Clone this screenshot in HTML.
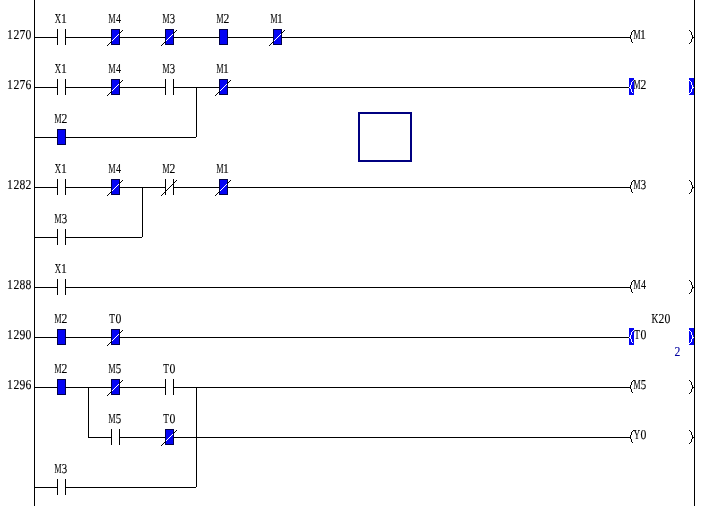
<!DOCTYPE html>
<html><head><meta charset="utf-8"><style>
html,body{margin:0;padding:0;background:#fff;width:701px;height:508px;overflow:hidden}
svg{position:absolute;left:0;top:0;display:block}
text{font-family:"Liberation Serif",serif;font-size:13.6px;text-anchor:middle;text-rendering:geometricPrecision;stroke-width:0.12px}
</style></head><body>
<svg width="701" height="508">
<g shape-rendering="crispEdges">
<rect x="34" y="0" width="1" height="506" fill="#000"/>
<rect x="694" y="0" width="1" height="506" fill="#000"/>
<rect x="34" y="37" width="24" height="1" fill="#000"/>
<rect x="65" y="37" width="47" height="1" fill="#000"/>
<rect x="119" y="37" width="47" height="1" fill="#000"/>
<rect x="173" y="37" width="47" height="1" fill="#000"/>
<rect x="227" y="37" width="47" height="1" fill="#000"/>
<rect x="281" y="37" width="349" height="1" fill="#000"/>
<rect x="57" y="29" width="1" height="16" fill="#000"/>
<rect x="65" y="29" width="1" height="16" fill="#000"/>
<rect x="111" y="29" width="9" height="16" fill="#00004a"/>
<rect x="112" y="30" width="7" height="14" fill="#0404f4"/>
<rect x="111" y="29" width="1" height="16" fill="#00004a"/>
<rect x="119" y="29" width="1" height="16" fill="#00004a"/>
<rect x="107" y="45" width="1" height="1" fill="#000"/>
<rect x="108" y="44" width="1" height="1" fill="#000"/>
<rect x="109" y="43" width="1" height="1" fill="#000"/>
<rect x="110" y="42" width="1" height="1" fill="#000"/>
<rect x="111" y="41" width="1" height="1" fill="#000"/>
<rect x="112" y="40" width="1" height="1" fill="#fff"/>
<rect x="113" y="39" width="1" height="1" fill="#fff"/>
<rect x="114" y="38" width="1" height="1" fill="#fff"/>
<rect x="115" y="37" width="1" height="1" fill="#fff"/>
<rect x="116" y="36" width="1" height="1" fill="#fff"/>
<rect x="117" y="35" width="1" height="1" fill="#fff"/>
<rect x="118" y="34" width="1" height="1" fill="#fff"/>
<rect x="119" y="33" width="1" height="1" fill="#000"/>
<rect x="120" y="32" width="1" height="1" fill="#000"/>
<rect x="121" y="31" width="1" height="1" fill="#000"/>
<rect x="122" y="30" width="1" height="1" fill="#000"/>
<rect x="165" y="29" width="9" height="16" fill="#00004a"/>
<rect x="166" y="30" width="7" height="14" fill="#0404f4"/>
<rect x="165" y="29" width="1" height="16" fill="#00004a"/>
<rect x="173" y="29" width="1" height="16" fill="#00004a"/>
<rect x="161" y="45" width="1" height="1" fill="#000"/>
<rect x="162" y="44" width="1" height="1" fill="#000"/>
<rect x="163" y="43" width="1" height="1" fill="#000"/>
<rect x="164" y="42" width="1" height="1" fill="#000"/>
<rect x="165" y="41" width="1" height="1" fill="#000"/>
<rect x="166" y="40" width="1" height="1" fill="#fff"/>
<rect x="167" y="39" width="1" height="1" fill="#fff"/>
<rect x="168" y="38" width="1" height="1" fill="#fff"/>
<rect x="169" y="37" width="1" height="1" fill="#fff"/>
<rect x="170" y="36" width="1" height="1" fill="#fff"/>
<rect x="171" y="35" width="1" height="1" fill="#fff"/>
<rect x="172" y="34" width="1" height="1" fill="#fff"/>
<rect x="173" y="33" width="1" height="1" fill="#000"/>
<rect x="174" y="32" width="1" height="1" fill="#000"/>
<rect x="175" y="31" width="1" height="1" fill="#000"/>
<rect x="176" y="30" width="1" height="1" fill="#000"/>
<rect x="219" y="29" width="9" height="16" fill="#00004a"/>
<rect x="220" y="30" width="7" height="14" fill="#0404f4"/>
<rect x="219" y="29" width="1" height="16" fill="#00004a"/>
<rect x="227" y="29" width="1" height="16" fill="#00004a"/>
<rect x="273" y="29" width="9" height="16" fill="#00004a"/>
<rect x="274" y="30" width="7" height="14" fill="#0404f4"/>
<rect x="273" y="29" width="1" height="16" fill="#00004a"/>
<rect x="281" y="29" width="1" height="16" fill="#00004a"/>
<rect x="269" y="45" width="1" height="1" fill="#000"/>
<rect x="270" y="44" width="1" height="1" fill="#000"/>
<rect x="271" y="43" width="1" height="1" fill="#000"/>
<rect x="272" y="42" width="1" height="1" fill="#000"/>
<rect x="273" y="41" width="1" height="1" fill="#000"/>
<rect x="274" y="40" width="1" height="1" fill="#fff"/>
<rect x="275" y="39" width="1" height="1" fill="#fff"/>
<rect x="276" y="38" width="1" height="1" fill="#fff"/>
<rect x="277" y="37" width="1" height="1" fill="#fff"/>
<rect x="278" y="36" width="1" height="1" fill="#fff"/>
<rect x="279" y="35" width="1" height="1" fill="#fff"/>
<rect x="280" y="34" width="1" height="1" fill="#fff"/>
<rect x="281" y="33" width="1" height="1" fill="#000"/>
<rect x="282" y="32" width="1" height="1" fill="#000"/>
<rect x="283" y="31" width="1" height="1" fill="#000"/>
<rect x="284" y="30" width="1" height="1" fill="#000"/>
<rect x="633" y="30" width="1" height="1" fill="#000"/>
<rect x="632" y="31" width="1" height="1" fill="#000"/>
<rect x="631" y="32" width="1" height="1" fill="#000"/>
<rect x="631" y="33" width="1" height="1" fill="#000"/>
<rect x="631" y="34" width="1" height="1" fill="#000"/>
<rect x="630" y="35" width="1" height="1" fill="#000"/>
<rect x="630" y="36" width="1" height="1" fill="#000"/>
<rect x="630" y="37" width="1" height="1" fill="#000"/>
<rect x="630" y="38" width="1" height="1" fill="#000"/>
<rect x="631" y="39" width="1" height="1" fill="#000"/>
<rect x="631" y="40" width="1" height="1" fill="#000"/>
<rect x="631" y="41" width="1" height="1" fill="#000"/>
<rect x="632" y="42" width="1" height="1" fill="#000"/>
<rect x="689" y="30" width="1" height="1" fill="#000"/>
<rect x="690" y="31" width="1" height="1" fill="#000"/>
<rect x="691" y="32" width="1" height="1" fill="#000"/>
<rect x="691" y="33" width="1" height="1" fill="#000"/>
<rect x="691" y="34" width="1" height="1" fill="#000"/>
<rect x="692" y="35" width="1" height="1" fill="#000"/>
<rect x="692" y="36" width="1" height="1" fill="#000"/>
<rect x="692" y="37" width="1" height="1" fill="#000"/>
<rect x="692" y="38" width="1" height="1" fill="#000"/>
<rect x="691" y="39" width="1" height="1" fill="#000"/>
<rect x="691" y="40" width="1" height="1" fill="#000"/>
<rect x="691" y="41" width="1" height="1" fill="#000"/>
<rect x="690" y="42" width="1" height="1" fill="#000"/>
<rect x="689" y="43" width="1" height="1" fill="#000"/>
<rect x="693" y="37" width="1" height="1" fill="#000"/>
<rect x="34" y="87" width="24" height="1" fill="#000"/>
<rect x="65" y="87" width="47" height="1" fill="#000"/>
<rect x="119" y="87" width="47" height="1" fill="#000"/>
<rect x="173" y="87" width="47" height="1" fill="#000"/>
<rect x="227" y="87" width="403" height="1" fill="#000"/>
<rect x="57" y="79" width="1" height="16" fill="#000"/>
<rect x="65" y="79" width="1" height="16" fill="#000"/>
<rect x="111" y="79" width="9" height="16" fill="#00004a"/>
<rect x="112" y="80" width="7" height="14" fill="#0404f4"/>
<rect x="111" y="79" width="1" height="16" fill="#00004a"/>
<rect x="119" y="79" width="1" height="16" fill="#00004a"/>
<rect x="107" y="95" width="1" height="1" fill="#000"/>
<rect x="108" y="94" width="1" height="1" fill="#000"/>
<rect x="109" y="93" width="1" height="1" fill="#000"/>
<rect x="110" y="92" width="1" height="1" fill="#000"/>
<rect x="111" y="91" width="1" height="1" fill="#000"/>
<rect x="112" y="90" width="1" height="1" fill="#fff"/>
<rect x="113" y="89" width="1" height="1" fill="#fff"/>
<rect x="114" y="88" width="1" height="1" fill="#fff"/>
<rect x="115" y="87" width="1" height="1" fill="#fff"/>
<rect x="116" y="86" width="1" height="1" fill="#fff"/>
<rect x="117" y="85" width="1" height="1" fill="#fff"/>
<rect x="118" y="84" width="1" height="1" fill="#fff"/>
<rect x="119" y="83" width="1" height="1" fill="#000"/>
<rect x="120" y="82" width="1" height="1" fill="#000"/>
<rect x="121" y="81" width="1" height="1" fill="#000"/>
<rect x="122" y="80" width="1" height="1" fill="#000"/>
<rect x="165" y="79" width="1" height="16" fill="#000"/>
<rect x="173" y="79" width="1" height="16" fill="#000"/>
<rect x="219" y="79" width="9" height="16" fill="#00004a"/>
<rect x="220" y="80" width="7" height="14" fill="#0404f4"/>
<rect x="219" y="79" width="1" height="16" fill="#00004a"/>
<rect x="227" y="79" width="1" height="16" fill="#00004a"/>
<rect x="215" y="95" width="1" height="1" fill="#000"/>
<rect x="216" y="94" width="1" height="1" fill="#000"/>
<rect x="217" y="93" width="1" height="1" fill="#000"/>
<rect x="218" y="92" width="1" height="1" fill="#000"/>
<rect x="219" y="91" width="1" height="1" fill="#000"/>
<rect x="220" y="90" width="1" height="1" fill="#fff"/>
<rect x="221" y="89" width="1" height="1" fill="#fff"/>
<rect x="222" y="88" width="1" height="1" fill="#fff"/>
<rect x="223" y="87" width="1" height="1" fill="#fff"/>
<rect x="224" y="86" width="1" height="1" fill="#fff"/>
<rect x="225" y="85" width="1" height="1" fill="#fff"/>
<rect x="226" y="84" width="1" height="1" fill="#fff"/>
<rect x="227" y="83" width="1" height="1" fill="#000"/>
<rect x="228" y="82" width="1" height="1" fill="#000"/>
<rect x="229" y="81" width="1" height="1" fill="#000"/>
<rect x="230" y="80" width="1" height="1" fill="#000"/>
<rect x="629" y="78" width="5" height="17" fill="#0404f4"/>
<rect x="689" y="78" width="5" height="17" fill="#0404f4"/>
<rect x="633" y="80" width="1" height="1" fill="#fff"/>
<rect x="632" y="81" width="1" height="1" fill="#fff"/>
<rect x="631" y="82" width="1" height="1" fill="#fff"/>
<rect x="631" y="83" width="1" height="1" fill="#fff"/>
<rect x="631" y="84" width="1" height="1" fill="#fff"/>
<rect x="630" y="85" width="1" height="1" fill="#fff"/>
<rect x="630" y="86" width="1" height="1" fill="#fff"/>
<rect x="630" y="87" width="1" height="1" fill="#fff"/>
<rect x="630" y="88" width="1" height="1" fill="#fff"/>
<rect x="631" y="89" width="1" height="1" fill="#fff"/>
<rect x="631" y="90" width="1" height="1" fill="#fff"/>
<rect x="631" y="91" width="1" height="1" fill="#fff"/>
<rect x="632" y="92" width="1" height="1" fill="#fff"/>
<rect x="689" y="80" width="1" height="1" fill="#fff"/>
<rect x="690" y="81" width="1" height="1" fill="#fff"/>
<rect x="691" y="82" width="1" height="1" fill="#fff"/>
<rect x="691" y="83" width="1" height="1" fill="#fff"/>
<rect x="691" y="84" width="1" height="1" fill="#fff"/>
<rect x="692" y="85" width="1" height="1" fill="#fff"/>
<rect x="692" y="86" width="1" height="1" fill="#fff"/>
<rect x="692" y="87" width="1" height="1" fill="#fff"/>
<rect x="692" y="88" width="1" height="1" fill="#fff"/>
<rect x="691" y="89" width="1" height="1" fill="#fff"/>
<rect x="691" y="90" width="1" height="1" fill="#fff"/>
<rect x="691" y="91" width="1" height="1" fill="#fff"/>
<rect x="690" y="92" width="1" height="1" fill="#fff"/>
<rect x="689" y="93" width="1" height="1" fill="#fff"/>
<rect x="693" y="87" width="1" height="1" fill="#fff"/>
<rect x="629" y="87" width="1" height="1" fill="#fff"/>
<rect x="34" y="137" width="24" height="1" fill="#000"/>
<rect x="65" y="137" width="131" height="1" fill="#000"/>
<rect x="57" y="129" width="9" height="16" fill="#00004a"/>
<rect x="58" y="130" width="7" height="14" fill="#0404f4"/>
<rect x="57" y="129" width="1" height="16" fill="#00004a"/>
<rect x="65" y="129" width="1" height="16" fill="#00004a"/>
<rect x="196" y="87" width="1" height="50" fill="#000"/>
<rect x="34" y="187" width="24" height="1" fill="#000"/>
<rect x="65" y="187" width="47" height="1" fill="#000"/>
<rect x="119" y="187" width="47" height="1" fill="#000"/>
<rect x="173" y="187" width="47" height="1" fill="#000"/>
<rect x="227" y="187" width="403" height="1" fill="#000"/>
<rect x="57" y="179" width="1" height="16" fill="#000"/>
<rect x="65" y="179" width="1" height="16" fill="#000"/>
<rect x="111" y="179" width="9" height="16" fill="#00004a"/>
<rect x="112" y="180" width="7" height="14" fill="#0404f4"/>
<rect x="111" y="179" width="1" height="16" fill="#00004a"/>
<rect x="119" y="179" width="1" height="16" fill="#00004a"/>
<rect x="107" y="195" width="1" height="1" fill="#000"/>
<rect x="108" y="194" width="1" height="1" fill="#000"/>
<rect x="109" y="193" width="1" height="1" fill="#000"/>
<rect x="110" y="192" width="1" height="1" fill="#000"/>
<rect x="111" y="191" width="1" height="1" fill="#000"/>
<rect x="112" y="190" width="1" height="1" fill="#fff"/>
<rect x="113" y="189" width="1" height="1" fill="#fff"/>
<rect x="114" y="188" width="1" height="1" fill="#fff"/>
<rect x="115" y="187" width="1" height="1" fill="#fff"/>
<rect x="116" y="186" width="1" height="1" fill="#fff"/>
<rect x="117" y="185" width="1" height="1" fill="#fff"/>
<rect x="118" y="184" width="1" height="1" fill="#fff"/>
<rect x="119" y="183" width="1" height="1" fill="#000"/>
<rect x="120" y="182" width="1" height="1" fill="#000"/>
<rect x="121" y="181" width="1" height="1" fill="#000"/>
<rect x="122" y="180" width="1" height="1" fill="#000"/>
<rect x="165" y="179" width="1" height="16" fill="#000"/>
<rect x="173" y="179" width="1" height="16" fill="#000"/>
<rect x="161" y="195" width="1" height="1" fill="#000"/>
<rect x="162" y="194" width="1" height="1" fill="#000"/>
<rect x="163" y="193" width="1" height="1" fill="#000"/>
<rect x="164" y="192" width="1" height="1" fill="#000"/>
<rect x="165" y="191" width="1" height="1" fill="#000"/>
<rect x="166" y="190" width="1" height="1" fill="#000"/>
<rect x="167" y="189" width="1" height="1" fill="#000"/>
<rect x="168" y="188" width="1" height="1" fill="#000"/>
<rect x="169" y="187" width="1" height="1" fill="#000"/>
<rect x="170" y="186" width="1" height="1" fill="#000"/>
<rect x="171" y="185" width="1" height="1" fill="#000"/>
<rect x="172" y="184" width="1" height="1" fill="#000"/>
<rect x="173" y="183" width="1" height="1" fill="#000"/>
<rect x="174" y="182" width="1" height="1" fill="#000"/>
<rect x="175" y="181" width="1" height="1" fill="#000"/>
<rect x="176" y="180" width="1" height="1" fill="#000"/>
<rect x="219" y="179" width="9" height="16" fill="#00004a"/>
<rect x="220" y="180" width="7" height="14" fill="#0404f4"/>
<rect x="219" y="179" width="1" height="16" fill="#00004a"/>
<rect x="227" y="179" width="1" height="16" fill="#00004a"/>
<rect x="215" y="195" width="1" height="1" fill="#000"/>
<rect x="216" y="194" width="1" height="1" fill="#000"/>
<rect x="217" y="193" width="1" height="1" fill="#000"/>
<rect x="218" y="192" width="1" height="1" fill="#000"/>
<rect x="219" y="191" width="1" height="1" fill="#000"/>
<rect x="220" y="190" width="1" height="1" fill="#fff"/>
<rect x="221" y="189" width="1" height="1" fill="#fff"/>
<rect x="222" y="188" width="1" height="1" fill="#fff"/>
<rect x="223" y="187" width="1" height="1" fill="#fff"/>
<rect x="224" y="186" width="1" height="1" fill="#fff"/>
<rect x="225" y="185" width="1" height="1" fill="#fff"/>
<rect x="226" y="184" width="1" height="1" fill="#fff"/>
<rect x="227" y="183" width="1" height="1" fill="#000"/>
<rect x="228" y="182" width="1" height="1" fill="#000"/>
<rect x="229" y="181" width="1" height="1" fill="#000"/>
<rect x="230" y="180" width="1" height="1" fill="#000"/>
<rect x="633" y="180" width="1" height="1" fill="#000"/>
<rect x="632" y="181" width="1" height="1" fill="#000"/>
<rect x="631" y="182" width="1" height="1" fill="#000"/>
<rect x="631" y="183" width="1" height="1" fill="#000"/>
<rect x="631" y="184" width="1" height="1" fill="#000"/>
<rect x="630" y="185" width="1" height="1" fill="#000"/>
<rect x="630" y="186" width="1" height="1" fill="#000"/>
<rect x="630" y="187" width="1" height="1" fill="#000"/>
<rect x="630" y="188" width="1" height="1" fill="#000"/>
<rect x="631" y="189" width="1" height="1" fill="#000"/>
<rect x="631" y="190" width="1" height="1" fill="#000"/>
<rect x="631" y="191" width="1" height="1" fill="#000"/>
<rect x="632" y="192" width="1" height="1" fill="#000"/>
<rect x="689" y="180" width="1" height="1" fill="#000"/>
<rect x="690" y="181" width="1" height="1" fill="#000"/>
<rect x="691" y="182" width="1" height="1" fill="#000"/>
<rect x="691" y="183" width="1" height="1" fill="#000"/>
<rect x="691" y="184" width="1" height="1" fill="#000"/>
<rect x="692" y="185" width="1" height="1" fill="#000"/>
<rect x="692" y="186" width="1" height="1" fill="#000"/>
<rect x="692" y="187" width="1" height="1" fill="#000"/>
<rect x="692" y="188" width="1" height="1" fill="#000"/>
<rect x="691" y="189" width="1" height="1" fill="#000"/>
<rect x="691" y="190" width="1" height="1" fill="#000"/>
<rect x="691" y="191" width="1" height="1" fill="#000"/>
<rect x="690" y="192" width="1" height="1" fill="#000"/>
<rect x="689" y="193" width="1" height="1" fill="#000"/>
<rect x="693" y="187" width="1" height="1" fill="#000"/>
<rect x="34" y="237" width="24" height="1" fill="#000"/>
<rect x="65" y="237" width="77" height="1" fill="#000"/>
<rect x="57" y="229" width="1" height="16" fill="#000"/>
<rect x="65" y="229" width="1" height="16" fill="#000"/>
<rect x="142" y="187" width="1" height="50" fill="#000"/>
<rect x="34" y="287" width="24" height="1" fill="#000"/>
<rect x="65" y="287" width="565" height="1" fill="#000"/>
<rect x="57" y="279" width="1" height="16" fill="#000"/>
<rect x="65" y="279" width="1" height="16" fill="#000"/>
<rect x="633" y="280" width="1" height="1" fill="#000"/>
<rect x="632" y="281" width="1" height="1" fill="#000"/>
<rect x="631" y="282" width="1" height="1" fill="#000"/>
<rect x="631" y="283" width="1" height="1" fill="#000"/>
<rect x="631" y="284" width="1" height="1" fill="#000"/>
<rect x="630" y="285" width="1" height="1" fill="#000"/>
<rect x="630" y="286" width="1" height="1" fill="#000"/>
<rect x="630" y="287" width="1" height="1" fill="#000"/>
<rect x="630" y="288" width="1" height="1" fill="#000"/>
<rect x="631" y="289" width="1" height="1" fill="#000"/>
<rect x="631" y="290" width="1" height="1" fill="#000"/>
<rect x="631" y="291" width="1" height="1" fill="#000"/>
<rect x="632" y="292" width="1" height="1" fill="#000"/>
<rect x="689" y="280" width="1" height="1" fill="#000"/>
<rect x="690" y="281" width="1" height="1" fill="#000"/>
<rect x="691" y="282" width="1" height="1" fill="#000"/>
<rect x="691" y="283" width="1" height="1" fill="#000"/>
<rect x="691" y="284" width="1" height="1" fill="#000"/>
<rect x="692" y="285" width="1" height="1" fill="#000"/>
<rect x="692" y="286" width="1" height="1" fill="#000"/>
<rect x="692" y="287" width="1" height="1" fill="#000"/>
<rect x="692" y="288" width="1" height="1" fill="#000"/>
<rect x="691" y="289" width="1" height="1" fill="#000"/>
<rect x="691" y="290" width="1" height="1" fill="#000"/>
<rect x="691" y="291" width="1" height="1" fill="#000"/>
<rect x="690" y="292" width="1" height="1" fill="#000"/>
<rect x="689" y="293" width="1" height="1" fill="#000"/>
<rect x="693" y="287" width="1" height="1" fill="#000"/>
<rect x="34" y="337" width="24" height="1" fill="#000"/>
<rect x="65" y="337" width="47" height="1" fill="#000"/>
<rect x="119" y="337" width="511" height="1" fill="#000"/>
<rect x="57" y="329" width="9" height="16" fill="#00004a"/>
<rect x="58" y="330" width="7" height="14" fill="#0404f4"/>
<rect x="57" y="329" width="1" height="16" fill="#00004a"/>
<rect x="65" y="329" width="1" height="16" fill="#00004a"/>
<rect x="111" y="329" width="9" height="16" fill="#00004a"/>
<rect x="112" y="330" width="7" height="14" fill="#0404f4"/>
<rect x="111" y="329" width="1" height="16" fill="#00004a"/>
<rect x="119" y="329" width="1" height="16" fill="#00004a"/>
<rect x="107" y="345" width="1" height="1" fill="#000"/>
<rect x="108" y="344" width="1" height="1" fill="#000"/>
<rect x="109" y="343" width="1" height="1" fill="#000"/>
<rect x="110" y="342" width="1" height="1" fill="#000"/>
<rect x="111" y="341" width="1" height="1" fill="#000"/>
<rect x="112" y="340" width="1" height="1" fill="#fff"/>
<rect x="113" y="339" width="1" height="1" fill="#fff"/>
<rect x="114" y="338" width="1" height="1" fill="#fff"/>
<rect x="115" y="337" width="1" height="1" fill="#fff"/>
<rect x="116" y="336" width="1" height="1" fill="#fff"/>
<rect x="117" y="335" width="1" height="1" fill="#fff"/>
<rect x="118" y="334" width="1" height="1" fill="#fff"/>
<rect x="119" y="333" width="1" height="1" fill="#000"/>
<rect x="120" y="332" width="1" height="1" fill="#000"/>
<rect x="121" y="331" width="1" height="1" fill="#000"/>
<rect x="122" y="330" width="1" height="1" fill="#000"/>
<rect x="629" y="328" width="5" height="17" fill="#0404f4"/>
<rect x="689" y="328" width="5" height="17" fill="#0404f4"/>
<rect x="633" y="330" width="1" height="1" fill="#fff"/>
<rect x="632" y="331" width="1" height="1" fill="#fff"/>
<rect x="631" y="332" width="1" height="1" fill="#fff"/>
<rect x="631" y="333" width="1" height="1" fill="#fff"/>
<rect x="631" y="334" width="1" height="1" fill="#fff"/>
<rect x="630" y="335" width="1" height="1" fill="#fff"/>
<rect x="630" y="336" width="1" height="1" fill="#fff"/>
<rect x="630" y="337" width="1" height="1" fill="#fff"/>
<rect x="630" y="338" width="1" height="1" fill="#fff"/>
<rect x="631" y="339" width="1" height="1" fill="#fff"/>
<rect x="631" y="340" width="1" height="1" fill="#fff"/>
<rect x="631" y="341" width="1" height="1" fill="#fff"/>
<rect x="632" y="342" width="1" height="1" fill="#fff"/>
<rect x="689" y="330" width="1" height="1" fill="#fff"/>
<rect x="690" y="331" width="1" height="1" fill="#fff"/>
<rect x="691" y="332" width="1" height="1" fill="#fff"/>
<rect x="691" y="333" width="1" height="1" fill="#fff"/>
<rect x="691" y="334" width="1" height="1" fill="#fff"/>
<rect x="692" y="335" width="1" height="1" fill="#fff"/>
<rect x="692" y="336" width="1" height="1" fill="#fff"/>
<rect x="692" y="337" width="1" height="1" fill="#fff"/>
<rect x="692" y="338" width="1" height="1" fill="#fff"/>
<rect x="691" y="339" width="1" height="1" fill="#fff"/>
<rect x="691" y="340" width="1" height="1" fill="#fff"/>
<rect x="691" y="341" width="1" height="1" fill="#fff"/>
<rect x="690" y="342" width="1" height="1" fill="#fff"/>
<rect x="689" y="343" width="1" height="1" fill="#fff"/>
<rect x="693" y="337" width="1" height="1" fill="#fff"/>
<rect x="629" y="337" width="1" height="1" fill="#fff"/>
<rect x="34" y="387" width="24" height="1" fill="#000"/>
<rect x="65" y="387" width="47" height="1" fill="#000"/>
<rect x="119" y="387" width="47" height="1" fill="#000"/>
<rect x="173" y="387" width="457" height="1" fill="#000"/>
<rect x="57" y="379" width="9" height="16" fill="#00004a"/>
<rect x="58" y="380" width="7" height="14" fill="#0404f4"/>
<rect x="57" y="379" width="1" height="16" fill="#00004a"/>
<rect x="65" y="379" width="1" height="16" fill="#00004a"/>
<rect x="111" y="379" width="9" height="16" fill="#00004a"/>
<rect x="112" y="380" width="7" height="14" fill="#0404f4"/>
<rect x="111" y="379" width="1" height="16" fill="#00004a"/>
<rect x="119" y="379" width="1" height="16" fill="#00004a"/>
<rect x="107" y="395" width="1" height="1" fill="#000"/>
<rect x="108" y="394" width="1" height="1" fill="#000"/>
<rect x="109" y="393" width="1" height="1" fill="#000"/>
<rect x="110" y="392" width="1" height="1" fill="#000"/>
<rect x="111" y="391" width="1" height="1" fill="#000"/>
<rect x="112" y="390" width="1" height="1" fill="#fff"/>
<rect x="113" y="389" width="1" height="1" fill="#fff"/>
<rect x="114" y="388" width="1" height="1" fill="#fff"/>
<rect x="115" y="387" width="1" height="1" fill="#fff"/>
<rect x="116" y="386" width="1" height="1" fill="#fff"/>
<rect x="117" y="385" width="1" height="1" fill="#fff"/>
<rect x="118" y="384" width="1" height="1" fill="#fff"/>
<rect x="119" y="383" width="1" height="1" fill="#000"/>
<rect x="120" y="382" width="1" height="1" fill="#000"/>
<rect x="121" y="381" width="1" height="1" fill="#000"/>
<rect x="122" y="380" width="1" height="1" fill="#000"/>
<rect x="165" y="379" width="1" height="16" fill="#000"/>
<rect x="173" y="379" width="1" height="16" fill="#000"/>
<rect x="633" y="380" width="1" height="1" fill="#000"/>
<rect x="632" y="381" width="1" height="1" fill="#000"/>
<rect x="631" y="382" width="1" height="1" fill="#000"/>
<rect x="631" y="383" width="1" height="1" fill="#000"/>
<rect x="631" y="384" width="1" height="1" fill="#000"/>
<rect x="630" y="385" width="1" height="1" fill="#000"/>
<rect x="630" y="386" width="1" height="1" fill="#000"/>
<rect x="630" y="387" width="1" height="1" fill="#000"/>
<rect x="630" y="388" width="1" height="1" fill="#000"/>
<rect x="631" y="389" width="1" height="1" fill="#000"/>
<rect x="631" y="390" width="1" height="1" fill="#000"/>
<rect x="631" y="391" width="1" height="1" fill="#000"/>
<rect x="632" y="392" width="1" height="1" fill="#000"/>
<rect x="689" y="380" width="1" height="1" fill="#000"/>
<rect x="690" y="381" width="1" height="1" fill="#000"/>
<rect x="691" y="382" width="1" height="1" fill="#000"/>
<rect x="691" y="383" width="1" height="1" fill="#000"/>
<rect x="691" y="384" width="1" height="1" fill="#000"/>
<rect x="692" y="385" width="1" height="1" fill="#000"/>
<rect x="692" y="386" width="1" height="1" fill="#000"/>
<rect x="692" y="387" width="1" height="1" fill="#000"/>
<rect x="692" y="388" width="1" height="1" fill="#000"/>
<rect x="691" y="389" width="1" height="1" fill="#000"/>
<rect x="691" y="390" width="1" height="1" fill="#000"/>
<rect x="691" y="391" width="1" height="1" fill="#000"/>
<rect x="690" y="392" width="1" height="1" fill="#000"/>
<rect x="689" y="393" width="1" height="1" fill="#000"/>
<rect x="693" y="387" width="1" height="1" fill="#000"/>
<rect x="88" y="387" width="1" height="50" fill="#000"/>
<rect x="88" y="437" width="24" height="1" fill="#000"/>
<rect x="119" y="437" width="47" height="1" fill="#000"/>
<rect x="173" y="437" width="457" height="1" fill="#000"/>
<rect x="111" y="429" width="1" height="16" fill="#000"/>
<rect x="119" y="429" width="1" height="16" fill="#000"/>
<rect x="165" y="429" width="9" height="16" fill="#00004a"/>
<rect x="166" y="430" width="7" height="14" fill="#0404f4"/>
<rect x="165" y="429" width="1" height="16" fill="#00004a"/>
<rect x="173" y="429" width="1" height="16" fill="#00004a"/>
<rect x="161" y="445" width="1" height="1" fill="#000"/>
<rect x="162" y="444" width="1" height="1" fill="#000"/>
<rect x="163" y="443" width="1" height="1" fill="#000"/>
<rect x="164" y="442" width="1" height="1" fill="#000"/>
<rect x="165" y="441" width="1" height="1" fill="#000"/>
<rect x="166" y="440" width="1" height="1" fill="#fff"/>
<rect x="167" y="439" width="1" height="1" fill="#fff"/>
<rect x="168" y="438" width="1" height="1" fill="#fff"/>
<rect x="169" y="437" width="1" height="1" fill="#fff"/>
<rect x="170" y="436" width="1" height="1" fill="#fff"/>
<rect x="171" y="435" width="1" height="1" fill="#fff"/>
<rect x="172" y="434" width="1" height="1" fill="#fff"/>
<rect x="173" y="433" width="1" height="1" fill="#000"/>
<rect x="174" y="432" width="1" height="1" fill="#000"/>
<rect x="175" y="431" width="1" height="1" fill="#000"/>
<rect x="176" y="430" width="1" height="1" fill="#000"/>
<rect x="633" y="430" width="1" height="1" fill="#000"/>
<rect x="632" y="431" width="1" height="1" fill="#000"/>
<rect x="631" y="432" width="1" height="1" fill="#000"/>
<rect x="631" y="433" width="1" height="1" fill="#000"/>
<rect x="631" y="434" width="1" height="1" fill="#000"/>
<rect x="630" y="435" width="1" height="1" fill="#000"/>
<rect x="630" y="436" width="1" height="1" fill="#000"/>
<rect x="630" y="437" width="1" height="1" fill="#000"/>
<rect x="630" y="438" width="1" height="1" fill="#000"/>
<rect x="631" y="439" width="1" height="1" fill="#000"/>
<rect x="631" y="440" width="1" height="1" fill="#000"/>
<rect x="631" y="441" width="1" height="1" fill="#000"/>
<rect x="632" y="442" width="1" height="1" fill="#000"/>
<rect x="689" y="430" width="1" height="1" fill="#000"/>
<rect x="690" y="431" width="1" height="1" fill="#000"/>
<rect x="691" y="432" width="1" height="1" fill="#000"/>
<rect x="691" y="433" width="1" height="1" fill="#000"/>
<rect x="691" y="434" width="1" height="1" fill="#000"/>
<rect x="692" y="435" width="1" height="1" fill="#000"/>
<rect x="692" y="436" width="1" height="1" fill="#000"/>
<rect x="692" y="437" width="1" height="1" fill="#000"/>
<rect x="692" y="438" width="1" height="1" fill="#000"/>
<rect x="691" y="439" width="1" height="1" fill="#000"/>
<rect x="691" y="440" width="1" height="1" fill="#000"/>
<rect x="691" y="441" width="1" height="1" fill="#000"/>
<rect x="690" y="442" width="1" height="1" fill="#000"/>
<rect x="689" y="443" width="1" height="1" fill="#000"/>
<rect x="693" y="437" width="1" height="1" fill="#000"/>
<rect x="34" y="487" width="24" height="1" fill="#000"/>
<rect x="65" y="487" width="131" height="1" fill="#000"/>
<rect x="57" y="479" width="1" height="16" fill="#000"/>
<rect x="65" y="479" width="1" height="16" fill="#000"/>
<rect x="196" y="387" width="1" height="100" fill="#000"/>
<rect x="358" y="112" width="54" height="2" fill="#000080"/>
<rect x="358" y="160" width="54" height="2" fill="#000080"/>
<rect x="358" y="112" width="2" height="50" fill="#000080"/>
<rect x="410" y="112" width="2" height="50" fill="#000080"/>
</g>
</svg>
<svg width="701" height="508" style="will-change:transform">
<g>
<text transform="translate(10,39) scale(0.86,1)" fill="#000" stroke="#000">1</text>
<text transform="translate(16.5,39) scale(0.86,1)" fill="#000" stroke="#000">2</text>
<text transform="translate(22.5,39) scale(0.86,1)" fill="#000" stroke="#000">7</text>
<text transform="translate(28.5,39) scale(0.86,1)" fill="#000" stroke="#000">0</text>
<text transform="translate(58,23) scale(0.64,1)" fill="#000" stroke="#000">X</text>
<text transform="translate(64,23) scale(0.86,1)" fill="#000" stroke="#000">1</text>
<text transform="translate(112,23) scale(0.58,1)" fill="#000" stroke="#000">M</text>
<text transform="translate(118.5,23) scale(0.74,1)" fill="#000" stroke="#000">4</text>
<text transform="translate(166,23) scale(0.58,1)" fill="#000" stroke="#000">M</text>
<text transform="translate(172.5,23) scale(0.8,1)" fill="#000" stroke="#000">3</text>
<text transform="translate(220,23) scale(0.58,1)" fill="#000" stroke="#000">M</text>
<text transform="translate(226.5,23) scale(0.86,1)" fill="#000" stroke="#000">2</text>
<text transform="translate(274,23) scale(0.58,1)" fill="#000" stroke="#000">M</text>
<text transform="translate(280,23) scale(0.86,1)" fill="#000" stroke="#000">1</text>
<text transform="translate(637,39) scale(0.58,1)" fill="#000" stroke="#000">M</text>
<text transform="translate(643,39) scale(0.86,1)" fill="#000" stroke="#000">1</text>
<text transform="translate(10,89) scale(0.86,1)" fill="#000" stroke="#000">1</text>
<text transform="translate(16.5,89) scale(0.86,1)" fill="#000" stroke="#000">2</text>
<text transform="translate(22.5,89) scale(0.86,1)" fill="#000" stroke="#000">7</text>
<text transform="translate(28.5,89) scale(0.86,1)" fill="#000" stroke="#000">6</text>
<text transform="translate(58,73) scale(0.64,1)" fill="#000" stroke="#000">X</text>
<text transform="translate(64,73) scale(0.86,1)" fill="#000" stroke="#000">1</text>
<text transform="translate(112,73) scale(0.58,1)" fill="#000" stroke="#000">M</text>
<text transform="translate(118.5,73) scale(0.74,1)" fill="#000" stroke="#000">4</text>
<text transform="translate(166,73) scale(0.58,1)" fill="#000" stroke="#000">M</text>
<text transform="translate(172.5,73) scale(0.8,1)" fill="#000" stroke="#000">3</text>
<text transform="translate(220,73) scale(0.58,1)" fill="#000" stroke="#000">M</text>
<text transform="translate(226,73) scale(0.86,1)" fill="#000" stroke="#000">1</text>
<text transform="translate(637,89) scale(0.58,1)" fill="#000" stroke="#000">M</text>
<text transform="translate(643.5,89) scale(0.86,1)" fill="#000" stroke="#000">2</text>
<text transform="translate(58,123) scale(0.58,1)" fill="#000" stroke="#000">M</text>
<text transform="translate(64.5,123) scale(0.86,1)" fill="#000" stroke="#000">2</text>
<text transform="translate(10,189) scale(0.86,1)" fill="#000" stroke="#000">1</text>
<text transform="translate(16.5,189) scale(0.86,1)" fill="#000" stroke="#000">2</text>
<text transform="translate(22.5,189) scale(0.86,1)" fill="#000" stroke="#000">8</text>
<text transform="translate(28.5,189) scale(0.86,1)" fill="#000" stroke="#000">2</text>
<text transform="translate(58,173) scale(0.64,1)" fill="#000" stroke="#000">X</text>
<text transform="translate(64,173) scale(0.86,1)" fill="#000" stroke="#000">1</text>
<text transform="translate(112,173) scale(0.58,1)" fill="#000" stroke="#000">M</text>
<text transform="translate(118.5,173) scale(0.74,1)" fill="#000" stroke="#000">4</text>
<text transform="translate(166,173) scale(0.58,1)" fill="#000" stroke="#000">M</text>
<text transform="translate(172.5,173) scale(0.86,1)" fill="#000" stroke="#000">2</text>
<text transform="translate(220,173) scale(0.58,1)" fill="#000" stroke="#000">M</text>
<text transform="translate(226,173) scale(0.86,1)" fill="#000" stroke="#000">1</text>
<text transform="translate(637,189) scale(0.58,1)" fill="#000" stroke="#000">M</text>
<text transform="translate(643.5,189) scale(0.8,1)" fill="#000" stroke="#000">3</text>
<text transform="translate(58,223) scale(0.58,1)" fill="#000" stroke="#000">M</text>
<text transform="translate(64.5,223) scale(0.8,1)" fill="#000" stroke="#000">3</text>
<text transform="translate(10,289) scale(0.86,1)" fill="#000" stroke="#000">1</text>
<text transform="translate(16.5,289) scale(0.86,1)" fill="#000" stroke="#000">2</text>
<text transform="translate(22.5,289) scale(0.86,1)" fill="#000" stroke="#000">8</text>
<text transform="translate(28.5,289) scale(0.86,1)" fill="#000" stroke="#000">8</text>
<text transform="translate(58,273) scale(0.64,1)" fill="#000" stroke="#000">X</text>
<text transform="translate(64,273) scale(0.86,1)" fill="#000" stroke="#000">1</text>
<text transform="translate(637,289) scale(0.58,1)" fill="#000" stroke="#000">M</text>
<text transform="translate(643.5,289) scale(0.74,1)" fill="#000" stroke="#000">4</text>
<text transform="translate(10,339) scale(0.86,1)" fill="#000" stroke="#000">1</text>
<text transform="translate(16.5,339) scale(0.86,1)" fill="#000" stroke="#000">2</text>
<text transform="translate(22.5,339) scale(0.86,1)" fill="#000" stroke="#000">9</text>
<text transform="translate(28.5,339) scale(0.86,1)" fill="#000" stroke="#000">0</text>
<text transform="translate(58,323) scale(0.58,1)" fill="#000" stroke="#000">M</text>
<text transform="translate(64.5,323) scale(0.86,1)" fill="#000" stroke="#000">2</text>
<text transform="translate(112,323) scale(0.68,1)" fill="#000" stroke="#000">T</text>
<text transform="translate(118.5,323) scale(0.86,1)" fill="#000" stroke="#000">0</text>
<text transform="translate(637,339) scale(0.68,1)" fill="#000" stroke="#000">T</text>
<text transform="translate(643.5,339) scale(0.86,1)" fill="#000" stroke="#000">0</text>
<text transform="translate(10,389) scale(0.86,1)" fill="#000" stroke="#000">1</text>
<text transform="translate(16.5,389) scale(0.86,1)" fill="#000" stroke="#000">2</text>
<text transform="translate(22.5,389) scale(0.86,1)" fill="#000" stroke="#000">9</text>
<text transform="translate(28.5,389) scale(0.86,1)" fill="#000" stroke="#000">6</text>
<text transform="translate(58,373) scale(0.58,1)" fill="#000" stroke="#000">M</text>
<text transform="translate(64.5,373) scale(0.86,1)" fill="#000" stroke="#000">2</text>
<text transform="translate(112,373) scale(0.58,1)" fill="#000" stroke="#000">M</text>
<text transform="translate(118.5,373) scale(0.8,1)" fill="#000" stroke="#000">5</text>
<text transform="translate(166,373) scale(0.68,1)" fill="#000" stroke="#000">T</text>
<text transform="translate(172.5,373) scale(0.86,1)" fill="#000" stroke="#000">0</text>
<text transform="translate(637,389) scale(0.58,1)" fill="#000" stroke="#000">M</text>
<text transform="translate(643.5,389) scale(0.8,1)" fill="#000" stroke="#000">5</text>
<text transform="translate(112,423) scale(0.58,1)" fill="#000" stroke="#000">M</text>
<text transform="translate(118.5,423) scale(0.8,1)" fill="#000" stroke="#000">5</text>
<text transform="translate(166,423) scale(0.68,1)" fill="#000" stroke="#000">T</text>
<text transform="translate(172.5,423) scale(0.86,1)" fill="#000" stroke="#000">0</text>
<text transform="translate(637,439) scale(0.64,1)" fill="#000" stroke="#000">Y</text>
<text transform="translate(643.5,439) scale(0.86,1)" fill="#000" stroke="#000">0</text>
<text transform="translate(58,473) scale(0.58,1)" fill="#000" stroke="#000">M</text>
<text transform="translate(64.5,473) scale(0.8,1)" fill="#000" stroke="#000">3</text>
<text transform="translate(655,323) scale(0.7,1)" fill="#000" stroke="#000">K</text>
<text transform="translate(661.5,323) scale(0.86,1)" fill="#000" stroke="#000">2</text>
<text transform="translate(667.5,323) scale(0.86,1)" fill="#000" stroke="#000">0</text>
<text transform="translate(677.5,356) scale(0.86,1)" fill="#0000a0" stroke="#0000a0">2</text>
</g>
</svg>
</body></html>
